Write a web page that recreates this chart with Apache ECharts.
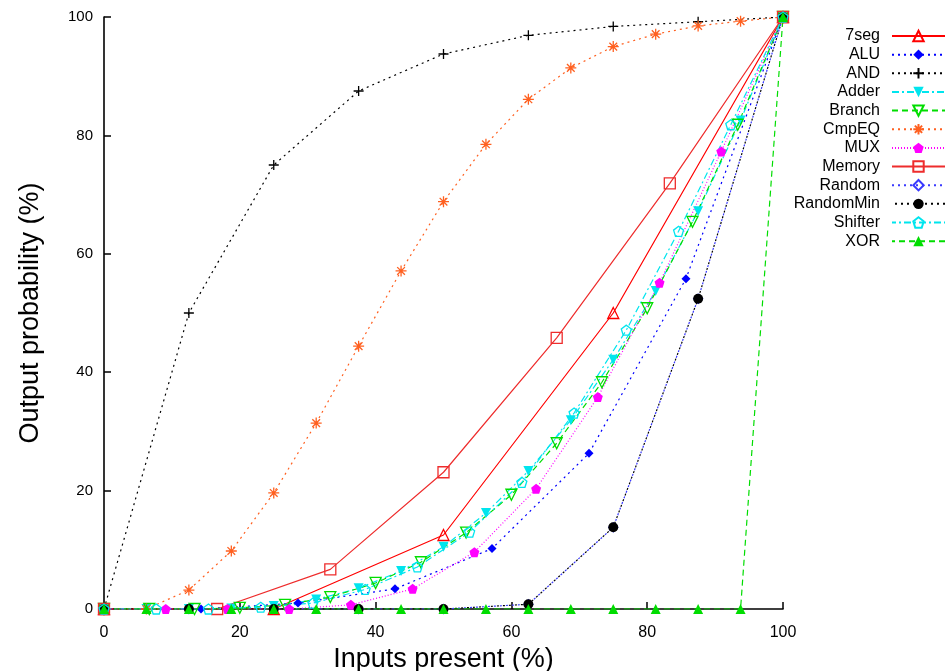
<!DOCTYPE html>
<html>
<head>
<meta charset="utf-8">
<script src="https://cdn.jsdelivr.net/npm/echarts@6/dist/echarts.min.js"></script>
<style>
html,body{margin:0;padding:0;background:#fff;}
#chart{width:951px;height:671px;}
</style>
</head>
<body>
<div id="chart"></div>
<script>
// ---- data ----
const seriesNames = ['7seg','ALU','AND','Adder','Branch','CmpEQ','MUX','Memory','Random','RandomMin','Shifter','XOR'];
const xTicks = [0, 20, 40, 60, 80, 100];
const yTicks = [0, 20, 40, 60, 80, 100];

const x7seg = [0, 25, 50, 75, 100];
const y7seg = [0, 0, 12.5, 50, 100];

const xALU = [0, 14.29, 28.57, 42.86, 57.14, 71.43, 85.71, 100];
const yALU = [0, 0, 1.0, 3.4, 10.2, 26.3, 55.8, 100];

const xAND = [0, 12.5, 25, 37.5, 50, 62.5, 75, 87.5, 100];
const yAND = [0, 50, 75, 87.5, 93.75, 96.9, 98.4, 99.2, 100];

const xAdder = [0, 6.25, 12.5, 18.75, 25, 31.25, 37.5, 43.75, 50, 56.25, 62.5, 68.75, 75, 81.25, 87.5, 93.75, 100];
const yAdder = [0, 0, 0, 0.1, 0.5, 1.6, 3.5, 6.4, 10.5, 16.2, 23.3, 31.9, 42.1, 53.7, 67.2, 82.5, 100];

const xBranch = [0, 6.67, 13.33, 20, 26.67, 33.33, 40, 46.67, 53.33, 60, 66.67, 73.33, 80, 86.67, 93.33, 100];
const yBranch = [0, 0, 0, 0.2, 0.7, 2.0, 4.4, 7.9, 12.9, 19.3, 28.0, 38.3, 50.8, 65.4, 81.8, 100];

const xCmpEQ = [0, 6.25, 12.5, 18.75, 25, 31.25, 37.5, 43.75, 50, 56.25, 62.5, 68.75, 75, 81.25, 87.5, 93.75, 100];
const yCmpEQ = [0, 0, 3.2, 9.8, 19.6, 31.4, 44.4, 57.1, 68.8, 78.5, 86.1, 91.4, 95.0, 97.1, 98.5, 99.3, 100];

const xMUX = [0, 9.09, 18.18, 27.27, 36.36, 45.45, 54.55, 63.64, 72.73, 81.82, 90.91, 100];
const yMUX = [0, 0, 0, 0, 0.7, 3.4, 9.6, 20.3, 35.8, 55.1, 77.3, 100];

const xMemory = [0, 16.67, 33.33, 50, 66.67, 83.33, 100];
const yMemory = [0, 0, 6.7, 23.1, 45.8, 71.9, 100];

const xRandom = [0, 12.5, 25, 37.5, 50, 62.5, 75, 87.5, 100];
const yRandom = [0, 0, 0, 0, 0, 0.8, 13.8, 52.4, 100];

const xRandomMin = [0, 12.5, 25, 37.5, 50, 62.5, 75, 87.5, 100];
const yRandomMin = [0, 0, 0, 0, 0, 0.8, 13.8, 52.4, 100];

const xShifter = [0, 7.69, 15.38, 23.08, 30.77, 38.46, 46.15, 53.85, 61.54, 69.23, 76.92, 84.62, 92.31, 100];
const yShifter = [0, 0, 0, 0.3, 1.0, 3.3, 7.1, 13.0, 21.4, 33.1, 47.1, 63.8, 81.8, 100];

const xXOR = [0, 6.25, 12.5, 18.75, 25, 31.25, 37.5, 43.75, 50, 56.25, 62.5, 68.75, 75, 81.25, 87.5, 93.75, 100];
const yXOR = [0, 0, 0, 0, 0, 0, 0, 0, 0, 0, 0, 0, 0, 0, 0, 0, 100];

// ---- styling ----
const FONT = "'Liberation Sans', Arial, sans-serif";
const DOWN_TRI = 'path://M0,0L10,0L5,8.66Z';
const PENTAGON = 'path://M5,0L9.76,3.45L7.94,9.05L2.06,9.05L0.24,3.45Z';
const PLUS = 'path://M5,0L5,10M0,5L10,5';
const STAR = 'path://M5,0L5,10M0,5L10,5M1.5,1.5L8.5,8.5M1.5,8.5L8.5,1.5';

const DOT = [2, 4];
const DASH = [6, 4];
const DASHDOT = [7, 3, 2, 3];

function mk(name, xs, ys, color, dash, symbol, size, filled, extra) {
  const data = xs.map((x, i) => [x, ys[i]]);
  const s = {
    name: name,
    type: 'line',
    data: data,
    color: color,
    symbol: symbol,
    symbolSize: size,
    showAllSymbol: true,
    lineStyle: { color: color, width: 1.2, type: dash },
    itemStyle: filled
      ? { color: color, borderColor: color, borderWidth: 0 }
      : { color: 'rgba(0,0,0,0)', borderColor: color, borderWidth: 1.3 },
    emphasis: { disabled: true },
    z: 2
  };
  if (extra) Object.assign(s.lineStyle, extra);
  return s;
}

const series = [
  mk('7seg', x7seg, y7seg, '#ff0000', 'solid', 'triangle', 11, false),
  mk('ALU', xALU, yALU, '#0000ff', DOT, 'diamond', 9, true),
  mk('AND', xAND, yAND, '#000000', DOT, PLUS, 10, false),
  mk('Adder', xAdder, yAdder, '#00e5ee', DASHDOT, DOWN_TRI, 10, true),
  mk('Branch', xBranch, yBranch, '#00dd00', DASH, DOWN_TRI, 11, false),
  mk('CmpEQ', xCmpEQ, yCmpEQ, '#ff6020', DOT, STAR, 11, false),
  mk('MUX', xMUX, yMUX, '#ff00ff', [1, 2], PENTAGON, 10, true),
  mk('Memory', xMemory, yMemory, '#ee2c2c', 'solid', 'rect', 11, false),
  mk('Random', xRandom, yRandom, '#3a3aff', DOT, 'diamond', 9, false),
  mk('RandomMin', xRandomMin, yRandomMin, '#000000', DOT, 'circle', 10, true, { dashOffset: 3 }),
  mk('Shifter', xShifter, yShifter, '#00e5ee', DASHDOT, PENTAGON, 10, false),
  mk('XOR', xXOR, yXOR, '#00dd00', DASH, 'triangle', 10, true)
];

const chart = echarts.init(document.getElementById('chart'), null, { renderer: 'canvas' });
chart.setOption({
  animation: false,
  backgroundColor: '#ffffff',
  textStyle: { fontFamily: FONT },
  grid: { left: 104, right: 168, top: 17, bottom: 62, containLabel: false, outerBoundsMode: 'none' },
  xAxis: {
    type: 'value', min: xTicks[0], max: xTicks[xTicks.length - 1], interval: 20,
    name: 'Inputs present (%)', nameLocation: 'middle', nameGap: 33,
    nameTextStyle: { fontSize: 27, color: '#000', fontFamily: FONT },
    axisLine: { show: true, onZero: false, lineStyle: { color: '#000', width: 1.6 } },
    axisTick: { show: true, inside: true, length: 7, lineStyle: { color: '#000', width: 1.5 } },
    axisLabel: { fontSize: 16, color: '#000', margin: 16, fontFamily: FONT },
    splitLine: { show: false }
  },
  yAxis: {
    type: 'value', min: yTicks[0], max: yTicks[yTicks.length - 1], interval: 20,
    name: 'Output probability (%)', nameLocation: 'middle', nameGap: 60,
    nameTextStyle: { fontSize: 27, color: '#000', fontFamily: FONT },
    axisLine: { show: true, onZero: false, lineStyle: { color: '#000', width: 1.6 } },
    axisTick: { show: true, inside: true, length: 7, lineStyle: { color: '#000', width: 1.5 } },
    axisLabel: { fontSize: 15, color: '#000', margin: 11, fontFamily: FONT },
    splitLine: { show: false }
  },
  legend: {
    data: seriesNames,
    orient: 'vertical',
    align: 'right',
    right: 5,
    top: 28,
    padding: 0,
    itemWidth: 53,
    itemHeight: 13,
    itemGap: 2.65,
    textStyle: { fontSize: 16, color: '#000', lineHeight: 16, fontFamily: FONT, padding: [0, 7, 0, 0] },
    selectedMode: false
  },
  series: series
});
</script>
</body>
</html>
